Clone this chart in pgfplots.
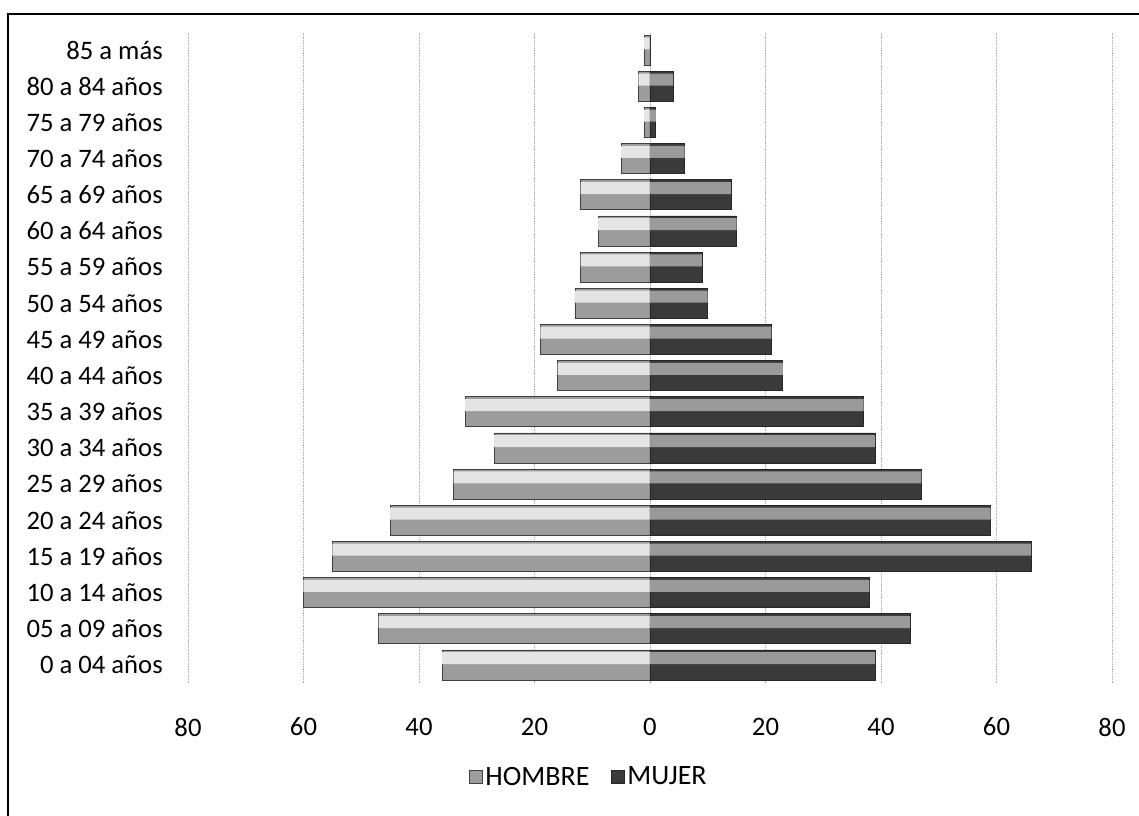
\documentclass[border=0pt]{standalone}
\usepackage{pgfplots}
\pgfplotsset{compat=1.18}
\usepackage{fontspec}
\setmainfont{Carlito}
\definecolor{hombreHi}{HTML}{E4E4E4}
\definecolor{hombreLo}{HTML}{9C9C9C}
\definecolor{mujerHi}{HTML}{9A9A9A}
\definecolor{mujerLo}{HTML}{3A3A3A}
\pgfplotstableread{
y hombre mujer
0 -36 39
1 -47 45
2 -60 38
3 -55 66
4 -45 59
5 -34 47
6 -27 39
7 -32 37
8 -16 23
9 -19 21
10 -13 10
11 -12 9
12 -9 15
13 -12 14
14 -5 6
15 -1 1
16 -2 4
17 -1 0
}\pyramid
\usepackage{pgfplotstable}
\begin{document}
\begin{tikzpicture}
\useasboundingbox (-141pt,-99.75pt) rectangle (713.25pt,512.25pt);
\begin{axis}[
  at={(0,0)}, anchor=south west,
  scale only axis,
  width=693pt, height=488.25pt,
  xmin=-80, xmax=80,
  ymin=-0.5, ymax=17.5,
  xbar, bar width=22.5pt, bar shift=0pt,
  axis line style={draw=none},
  major tick length=0pt,
  xtick={-80,-60,-40,-20,0,20,40,60,80},
  xticklabels={80,60,40,20,0,20,40,60,80},
  ytick={0,...,17},
  yticklabels={0 a 04 años,05 a 09 años,10 a 14 años,15 a 19 años,20 a 24 años,25 a 29 años,30 a 34 años,35 a 39 años,40 a 44 años,45 a 49 años,50 a 54 años,55 a 59 años,60 a 64 años,65 a 69 años,70 a 74 años,75 a 79 años,80 a 84 años,85 a más},
  xmajorgrids=true,
  grid style={densely dotted, gray!70, line width=0.6pt},
  /pgf/number format/assume math mode=true,
  tick label style={font=\fontsize{20}{24}\selectfont},
  xticklabel style={anchor=center, yshift=-33pt},
  yticklabel style={anchor=east, inner sep=0pt, xshift=-18.75pt},
  legend style={at={(axis description cs:0.434,0)}, anchor=center, yshift=-70.5pt,
    draw=none, fill=none, legend columns=2,
    font=\fontsize{21}{24}\selectfont,
    /tikz/every even column/.append style={column sep=14pt}},
  legend image code/.code={\path[#1] (0pt,-5pt) rectangle (10pt,5pt);},
]
% HOMBRE: dark base, light upper band
\addplot[draw=black!75, line width=0.5pt, fill=hombreLo] table[x=hombre, y=y] {\pyramid};
\addplot[forget plot, draw=none, fill=hombreHi, bar width=9pt, bar shift=5pt] table[x=hombre, y=y] {\pyramid};
% MUJER
\addplot[draw=black!85, line width=0.5pt, fill=mujerLo] table[x=mujer, y=y] {\pyramid};
\addplot[forget plot, draw=none, fill=mujerHi, bar width=9pt, bar shift=5pt] table[x=mujer, y=y] {\pyramid};
\legend{HOMBRE, MUJER}
\end{axis}
\draw[line width=1.5pt] (-135pt,-110pt) -- (-135pt,501.75pt) -- (720pt,501.75pt);
\end{tikzpicture}
\end{document}
